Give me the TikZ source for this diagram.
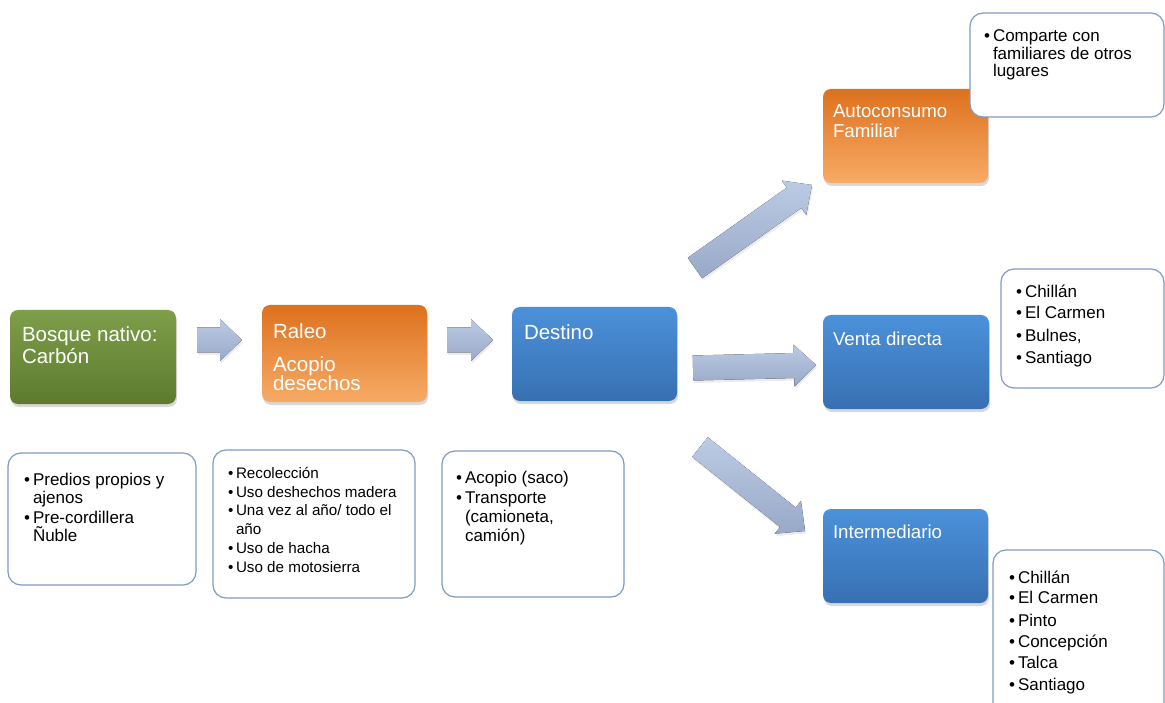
\documentclass[tikz,border=0pt]{standalone}
\usepackage{fontspec}
\setmainfont{Liberation Sans}
\usetikzlibrary{calc,shadows}
\definecolor{gtop}{HTML}{7F9E4A}
\definecolor{gbot}{HTML}{5C7B2E}
\definecolor{otop}{HTML}{DD711D}
\definecolor{omid}{HTML}{F08A34}
\definecolor{obot}{HTML}{F7AB66}
\definecolor{btop}{HTML}{4B91DA}
\definecolor{bbot}{HTML}{3870B2}
\definecolor{atop}{HTML}{BCCBE4}
\definecolor{abot}{HTML}{98A9C8}
\definecolor{oline}{HTML}{7E9BC5}
\newcommand\fT{\fontsize{20.5}{22}\selectfont}
\newcommand\fR{\fontsize{18.7}{20}\selectfont}
\newcommand\fA{\fontsize{17}{18}\selectfont}
\newcommand\fB{\fontsize{15.2}{16}\selectfont}
\tikzset{
  boxbase/.style={rectangle, inner sep=0pt, outer sep=0pt, anchor=north west},
  cbox/.style={boxbase, rounded corners=8pt,
    drop shadow={opacity=0.3, shadow xshift=1pt, shadow yshift=-3pt}},
  greenbox/.style={cbox, top color=gtop, bottom color=gbot},
  orangebox/.style={cbox, top color=otop, middle color=omid, bottom color=obot},
  bluebox/.style={cbox, top color=btop, bottom color=bbot},
  wbox/.style={boxbase, rounded corners=13pt, draw=oline, line width=1.2pt, fill=white},
  txt/.style={anchor=base west, inner sep=0pt, outer sep=0pt, text=black},
  wtxt/.style={txt, text=white},
  arrowshade/.style={top color=atop, bottom color=abot,
    drop shadow={opacity=0.15, shadow xshift=1pt, shadow yshift=-2.5pt}},
}
% box: name, style, x1, y1, x2, y2
\newcommand\boxat[6]{\node[#2, minimum width={(#5-#3)*1pt}, minimum height={(#6-#4)*1pt}] (#1) at (#3,#4) {};}
% text line: name, style, x, y, font, text
\newcommand\tl[6]{\node[#2, font=#5] (#1) at (#3,#4) {#6};}
% bullet item: name, bullet x, text x, y, font, text
\newcommand\bitem[6]{\node[txt, font=#5] (#1b) at (#2,#4) {•};\node[txt, font=#5] (#1) at (#3,#4) {#6};}
% block arrow from tail coordinate #1 to tip coordinate #2
\newcommand\fatarrow[2]{%
  \coordinate (#2hb) at ($(#2)!22pt!(#1)$);
  \fill[arrowshade] ($(#1)!12.5pt!90:(#2)$) -- ($(#2hb)!12.5pt!90:(#2)$) -- ($(#2hb)!21pt!90:(#2)$) -- (#2)
     -- ($(#2hb)!21pt!-90:(#2)$) -- ($(#2hb)!12.5pt!-90:(#2)$) -- ($(#1)!12.5pt!-90:(#2)$) -- cycle;}
\begin{document}
\begin{tikzpicture}[x=1pt, y=-1pt]
\clip (0,0) rectangle (1165,703);
\fill[white] (0,0) rectangle (1165,703);

% coloured boxes
\boxat{bosque}{greenbox}{10}{310}{176}{404}
\boxat{raleo}{orangebox}{262}{305}{427}{402}
\boxat{destino}{bluebox}{512}{307}{677}{401}
\boxat{auto}{orangebox}{823}{89}{988}{183}
\boxat{venta}{bluebox}{823}{315}{989}{409}
\boxat{inter}{bluebox}{823}{509}{988}{603}

% outline boxes
\boxat{predios}{wbox}{8}{453}{196}{585}
\boxat{recol}{wbox}{213}{450}{415}{598}
\boxat{acopio}{wbox}{442}{451}{624}{597}
\boxat{comparte}{wbox}{970}{13}{1164}{117}
\boxat{ventalist}{wbox}{1001}{269}{1164}{388}
\boxat{interlist}{wbox}{993}{550}{1164}{720}

% block arrows
\coordinate (a1s) at (197,340); \coordinate (a1e) at (242,340);
\coordinate (a2s) at (447,340); \coordinate (a2e) at (493,340);
\coordinate (a3s) at (693,368); \coordinate (a3e) at (816,365);
\coordinate (a4s) at (695,268); \coordinate (a4e) at (812,185);
\coordinate (a5s) at (700,447); \coordinate (a5e) at (805,531);
\fatarrow{a1s}{a1e}
\fatarrow{a2s}{a2e}
\fatarrow{a3s}{a3e}
\fatarrow{a4s}{a4e}
\fatarrow{a5s}{a5e}

% titles
\tl{t1}{wtxt}{22}{342}{\fT}{Bosque nativo:}
\tl{t2}{wtxt}{22}{363}{\fT}{Carbón}
\tl{t3}{wtxt}{273}{338}{\fT}{Raleo}
\tl{t4}{wtxt}{273}{371}{\fT}{Acopio}
\tl{t5}{wtxt}{273}{390}{\fT}{desechos}
\tl{t6}{wtxt}{524}{340}{\fT}{Destino}
\tl{t7}{wtxt}{833}{118}{\fR}{Autoconsumo}
\tl{t8}{wtxt}{833}{138}{\fR}{Familiar}
\tl{t9}{wtxt}{833}{345}{\fR}{Venta directa}
\tl{t10}{wtxt}{833}{538}{\fR}{Intermediario}

% box 1
\bitem{p1}{24}{33}{485}{\fA}{Predios propios y}
\tl{p1c}{txt}{33}{503}{\fA}{ajenos}
\bitem{p2}{24}{33}{523}{\fA}{Pre-cordillera}
\tl{p2c}{txt}{33}{541}{\fA}{Ñuble}

% box 2
\bitem{r1}{228}{236}{478}{\fB}{Recolección}
\bitem{r2}{228}{236}{497}{\fB}{Uso deshechos madera}
\bitem{r3}{228}{236}{515}{\fB}{Una vez al año/ todo el}
\tl{r3c}{txt}{236}{534}{\fB}{año}
\bitem{r4}{228}{236}{553}{\fB}{Uso de hacha}
\bitem{r5}{228}{236}{572}{\fB}{Uso de motosierra}

% box 3
\bitem{c1}{456}{465}{483}{\fA}{Acopio (saco)}
\bitem{c2}{456}{465}{503}{\fA}{Transporte}
\tl{c2c}{txt}{465}{522}{\fA}{(camioneta,}
\tl{c2d}{txt}{465}{541}{\fA}{camión)}

% comparte
\bitem{f1}{984}{993}{42}{\fA}{Comparte con}
\tl{f1c}{txt}{993}{60}{\fA}{familiares de otros}
\tl{f1d}{txt}{993}{77}{\fA}{lugares}

% venta list
\bitem{v1}{1016}{1025}{298}{\fA}{Chillán}
\bitem{v2}{1016}{1025}{319}{\fA}{El Carmen}
\bitem{v3}{1016}{1025}{342}{\fA}{Bulnes,}
\bitem{v4}{1016}{1025}{363}{\fA}{Santiago}

% intermediario list
\bitem{i1}{1009}{1018}{583}{\fA}{Chillán}
\bitem{i2}{1009}{1018}{603}{\fA}{El Carmen}
\bitem{i3}{1009}{1018}{626}{\fA}{Pinto}
\bitem{i4}{1009}{1018}{647}{\fA}{Concepción}
\bitem{i5}{1009}{1018}{668}{\fA}{Talca}
\bitem{i6}{1009}{1018}{690}{\fA}{Santiago}
\end{tikzpicture}
\end{document}
